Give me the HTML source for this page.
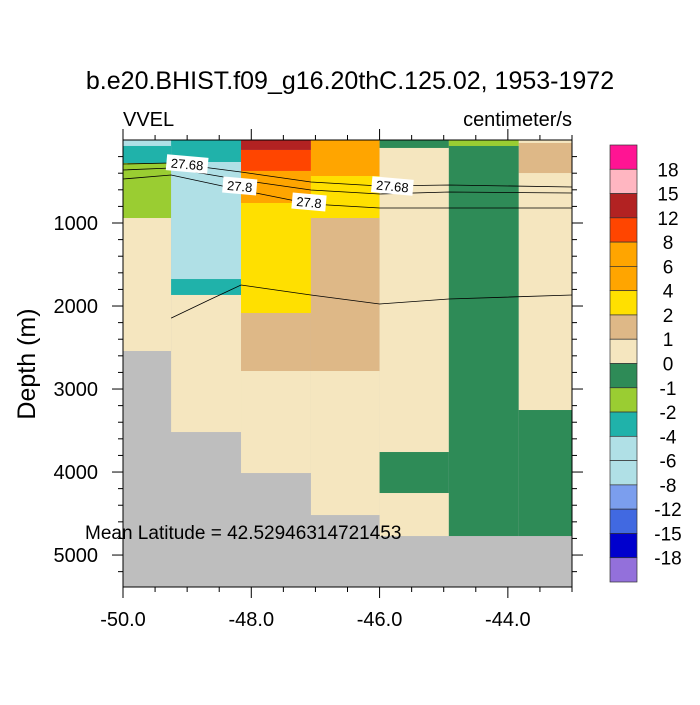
<!DOCTYPE html>
<html><head><meta charset="utf-8"><style>
body{margin:0;background:#fff;}
svg text{font-family:"Liberation Sans",Arial,sans-serif;fill:#000;}
</style></head><body>
<svg id="chart" width="700" height="700" viewBox="0 0 700 700" xmlns="http://www.w3.org/2000/svg">
<rect width="700" height="700" fill="#fff"/>
<text x="350" y="89" font-size="25" text-anchor="middle">b.e20.BHIST.f09_g16.20thC.125.02, 1953-1972</text>
<text x="123" y="126" font-size="20">VVEL</text>
<text x="572" y="126" font-size="20" text-anchor="end">centimeter/s</text>
<text transform="translate(35,364) rotate(-90)" font-size="25" text-anchor="middle">Depth (m)</text>
<g id="cells"></g>
<g id="lines"></g>
<g id="axes"></g>
<g id="cbar"></g>
<text x="85" y="539" font-size="19">Mean Latitude = 42.52946314721453</text>
</svg>
<script>
// ---- data ----
const colEdges = [-50, -49.25, -48.16, -47.07, -46.0, -44.92, -43.83, -43.0];
const colTops = [
  [0, 72, 277, 940],
  [0, 265, 1675, 1867],
  [0, 120, 373, 759, 2084, 2783],
  [0, 434, 940, 2783],
  [0, 96, 3759, 4253],
  [0, 72],
  [0, 36, 398, 3253]
];
const colBottoms = [
  [72, 277, 940, 2542],
  [265, 1675, 1867, 3518],
  [120, 373, 759, 2084, 2783, 4012],
  [434, 940, 2783, 4518],
  [96, 3759, 4253, 4771],
  [72, 4771],
  [36, 398, 3253, 4771]
];
const colValues = [
  [-7, -3, -1.5, 0.5],
  [-3, -7, -3, 0.5],
  [13, 10, 5, 3, 1.5, 0.5],
  [5, 3, 1.5, 0.5],
  [-0.5, 0.5, -0.5, 0.5],
  [-1.5, -0.5],
  [0.5, 1.5, 0.5, -0.5]
];
const levels = [-18, -15, -12, -8, -6, -4, -2, -1, 0, 1, 2, 4, 6, 8, 12, 15, 18];
const levelColors = ["#9370DB","#0000CD","#4169E1","#7B9EEE","#B0E0E6","#B0E0E6","#20B2AA","#9ACD32","#2E8B57","#F5E6BF","#DEB887","#FFE000","#FFA500","#FFA500","#FF4500","#B22222","#FFB6C1","#FF1493"];
const xTicks = [-50, -48, -46, -44];
const xTickLabels = ["-50.0", "-48.0", "-46.0", "-44.0"];
const yTicks = [1000, 2000, 3000, 4000, 5000];
const lineA_lon = [-50, -49.25, -48.16, -47.07, -46.0, -44.92, -43.0];
const lineA_dep = [289, 277, 386, 506, 554, 542, 566];
const lineB_dep = [361, 337, 482, 602, 651, 627, 639];
const lineC_dep = [470, 422, 602, 771, 819, 819, 819];
const lineD_lon = [-49.25, -48.66, -48.16, -47.07, -46.0, -44.92, -43.0];
const lineD_dep = [2145, 1928, 1747, 1867, 1976, 1916, 1867];
const contourLabels = ["27.68", "27.8", "27.8", "27.68"];
const contourLabelLon = [-49.0, -48.18, -47.1, -45.8];
const contourLabelDep = [289, 554, 747, 554];

// ---- scales ----
const X0 = 123, X1 = 572, Y0 = 140, Y1 = 587;
const lonMin = -50, lonMax = -43, depMax = 5385;
const xs = v => X0 + (v - lonMin) / (lonMax - lonMin) * (X1 - X0);
const ys = d => Y0 + d / depMax * (Y1 - Y0);
const NS = "http://www.w3.org/2000/svg";
function mk(tag, parent, attrs) {
  const e = document.createElementNS(NS, tag);
  for (const k in attrs) e.setAttribute(k, attrs[k]);
  parent.appendChild(e);
  return e;
}
function colorFor(v) {
  let i = 0;
  while (i < levels.length && v >= levels[i]) i++;
  return levelColors[i];
}
const cells = document.getElementById('cells');
const bg = mk('rect', cells, {x: X0, y: Y0, width: X1 - X0, height: Y1 - Y0, fill: '#BEBEBE'});


for (let c = 0; c < colValues.length; c++) {
  for (let k = 0; k < colValues[c].length; k++) {
    const x = xs(colEdges[c]), x2 = xs(colEdges[c + 1]);
    const y = ys(colTops[c][k]), y2 = ys(colBottoms[c][k]);
    const r = mk('rect', cells, {x: x, y: y, width: x2 - x, height: y2 - y, fill: colorFor(colValues[c][k])});
    
    
  }
}
// contours
const lines = document.getElementById('lines');
function poly(lons, deps, name) {
  const pts = lons.map((l, i) => xs(l).toFixed(1) + ',' + ys(deps[i]).toFixed(1)).join(' ');
  const p = mk('polyline', lines, {points: pts, fill: 'none', stroke: '#000', 'stroke-width': 0.8});
  
  
}
poly(lineA_lon, lineA_dep, 'contour-27-68-upper');
poly(lineA_lon, lineB_dep, 'contour-middle');
poly(lineA_lon, lineC_dep, 'contour-27-8');
poly(lineD_lon, lineD_dep, 'contour-deep');
for (let i = 0; i < contourLabels.length; i++) {
  const cx = xs(contourLabelLon[i]), cy = ys(contourLabelDep[i]);
  const g = mk('g', lines, {transform: 'translate(' + cx + ',' + cy + ') rotate(5)'});
  
  
  const w = contourLabels[i].length * 7.5 + 4;
  mk('rect', g, {x: -w / 2, y: -8, width: w, height: 16, fill: '#fff'});
  const t = mk('text', g, {x: 0, y: 5, 'font-size': 13, 'text-anchor': 'middle'});
  t.textContent = contourLabels[i];
}
// axes
const ax = document.getElementById('axes');
const fr = mk('rect', ax, {x: X0, y: Y0, width: X1 - X0, height: Y1 - Y0, fill: 'none', stroke: '#000', 'stroke-width': 1});


for (let v = -50; v <= -43.001; v += 0.5) {
  const major = xTicks.indexOf(v) >= 0;
  const L = major ? 11 : 5, x = xs(v);
  mk('line', ax, {x1: x, x2: x, y1: Y1, y2: Y1 + L, stroke: '#000'});
  mk('line', ax, {x1: x, x2: x, y1: Y0, y2: Y0 - L, stroke: '#000'});
}
mk('line', ax, {x1: X1, x2: X1, y1: Y1, y2: Y1 + 5, stroke: '#000'});
mk('line', ax, {x1: X1, x2: X1, y1: Y0, y2: Y0 - 5, stroke: '#000'});
xTicks.forEach((v, i) => {
  const t = mk('text', ax, {x: xs(v), y: 626, 'font-size': 20, 'text-anchor': 'middle'});
  t.textContent = xTickLabels[i];
  
  
});
for (let d = 200; d < depMax; d += 200) {
  const major = yTicks.indexOf(d) >= 0;
  const L = major ? 11 : 5, y = ys(d);
  mk('line', ax, {x1: X0, x2: X0 - L, y1: y, y2: y, stroke: '#000'});
  mk('line', ax, {x1: X1, x2: X1 + L, y1: y, y2: y, stroke: '#000'});
}
yTicks.forEach(d => {
  const t = mk('text', ax, {x: 98, y: ys(d) + 7, 'font-size': 20, 'text-anchor': 'end'});
  t.textContent = String(d);
  
  
});
// colorbar
const cb = document.getElementById('cbar');
const CBX = 610, CBW = 27, CBY = 145, CBH = 437, n = levelColors.length, bh = CBH / n;
for (let i = 0; i < n; i++) {
  const r = mk('rect', cb, {x: CBX, y: CBY + i * bh, width: CBW, height: bh, fill: levelColors[n - 1 - i], stroke: '#333', 'stroke-width': 0.7});
  
  
}
for (let j = 0; j < levels.length; j++) {
  const t = mk('text', cb, {x: 668, y: CBY + (j + 1) * bh + 7, 'font-size': 19, 'text-anchor': 'middle'});
  t.textContent = String(levels[levels.length - 1 - j]);
  
  
}
</script>
</body></html>
